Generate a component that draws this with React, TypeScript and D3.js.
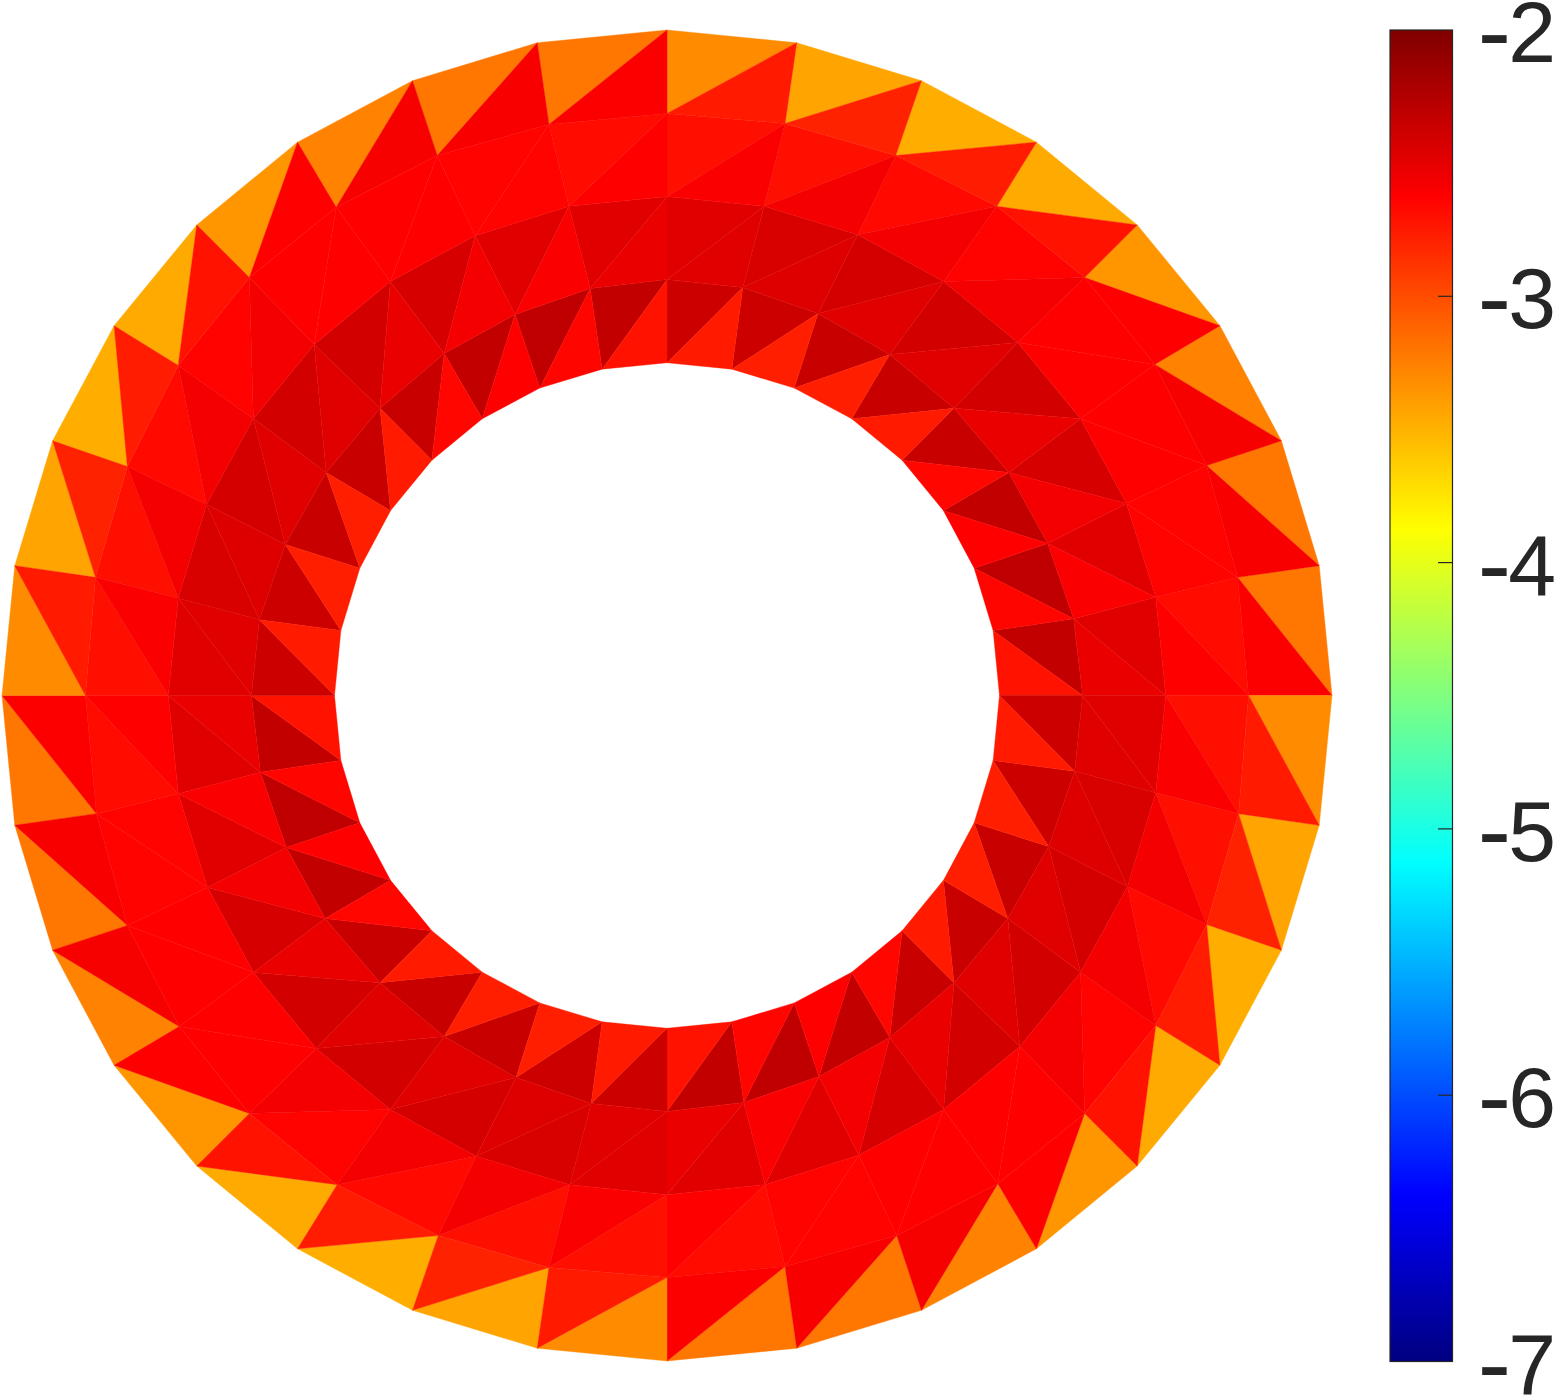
import React from "react";
import * as d3 from "d3";

// One quarter of the ring, read sector by sector clockwise from the top.
// The picture repeats this quarter four times around the centre.
// "a" triangles point outward (inner k, outer k, outer k+1); "b" triangles point inward.
const ring0a = [-2.38, -2.38, -2.355, -2.355, -2.355, -2.33, -2.316, -2.33];
const ring0b = [-2.75, -2.77, -2.77, -2.75, -2.66, -2.625, -2.65, -2.72];
const ring1a = [-2.478, -2.44, -2.415, -2.41, -2.41, -2.43, -2.478, -2.478];
const ring1b = [-2.473, -2.463, -2.478, -2.478, -2.527, -2.576, -2.6, -2.527];
const ring2a = [-2.7, -2.7, -2.67, -2.64, -2.625, -2.625, -2.64, -2.68];
const ring2b = [-2.6, -2.576, -2.57, -2.57, -2.62, -2.625, -2.64, -2.62];
const ring3a = [-3.31, -3.43, -3.48, -3.46, -3.36, -3.26, -3.21, -3.21];
const ring3b = [-2.75, -2.79, -2.76, -2.72, -2.625, -2.585, -2.59, -2.61];

const ringsA = [ring0a, ring1a, ring2a, ring3a];
const ringsB = [ring0b, ring1b, ring2b, ring3b];

// Mesh nodes of the three middle rings for one quarter (x, y in data units).
const nodes1: [number, number][] = [[0, 1.25], [0.228, 1.226], [0.454, 1.148], [0.67, 1.025], [0.863, 0.863], [1.028, 0.67], [1.145, 0.457], [1.223, 0.231]];
const nodes2: [number, number][] = [[0, 1.5], [0.292, 1.47], [0.574, 1.385], [0.832, 1.244], [1.055, 1.061], [1.244, 0.832], [1.382, 0.577], [1.47, 0.295]];
const nodes3: [number, number][] = [[0, 1.749], [0.355, 1.719], [0.688, 1.623], [0.992, 1.47], [1.256, 1.256], [1.467, 0.995], [1.623, 0.691], [1.716, 0.355]];

const SECTORS = 32;
const circle = (r: number): [number, number][] =>
  d3.range(8).map((k) => {
    const a = (k * 2 * Math.PI) / SECTORS;
    return [r * Math.sin(a), r * Math.cos(a)] as [number, number];
  });
const nodes = [circle(1), nodes1, nodes2, nodes3, circle(2)];

const colorTicks = [-2, -3, -4, -5, -6, -7];
const jetValues = [-7, -6.375, -5.125, -3.875, -2.625, -2];
const jetColors = ["#000080", "#0000ff", "#00ffff", "#ffff00", "#ff0000", "#800000"];

const color = d3
  .scaleLinear<string>()
  .domain(jetValues)
  .range(jetColors)
  .interpolate(d3.interpolateRgb)
  .clamp(true);

const x = d3.scaleLinear().domain([-2, 2]).range([2, 1332]);
const y = d3.scaleLinear().domain([-2, 2]).range([1361, 30]);
const bar = d3.scaleLinear().domain([-7, -2]).range([1361.5, 30]);

function vertex(k: number, j: number): [number, number] {
  const i = ((k % SECTORS) + SECTORS) % SECTORS;
  const q = Math.floor(i / 8);
  const [a, b] = nodes[j][i % 8];
  const rotated = q === 0 ? [a, b] : q === 1 ? [b, -a] : q === 2 ? [-a, -b] : [-b, a];
  return [x(rotated[0]), y(rotated[1])];
}

type Tri = { pts: [number, number][]; v: number };

const tris: Tri[] = [];
for (let q = 0; q < 4; q++) {
  for (let j = 0; j < 4; j++) {
    ringsA[j].forEach((v, s) => {
      const k = q * 8 + s;
      tris.push({ pts: [vertex(k, j), vertex(k, j + 1), vertex(k + 1, j + 1)], v });
    });
    ringsB[j].forEach((v, s) => {
      const k = q * 8 + s;
      tris.push({ pts: [vertex(k, j), vertex(k + 1, j + 1), vertex(k + 1, j)], v });
    });
  }
}

const line = d3.line();
const ink = "#262626";

export default function App() {
  return (
    <svg
      width={1556}
      height={1395}
      viewBox="0 0 1556 1395"
      style={{ position: "absolute", left: 0, top: 0, background: "#fff" }}
    >
      <defs>
        <linearGradient id="jet" x1="0" y1="1" x2="0" y2="0">
          {jetValues.map((v, i) => (
            <stop key={v} offset={(v + 7) / 5} stopColor={jetColors[i]} />
          ))}
        </linearGradient>
      </defs>
      <g>
        {tris.map((t, i) => (
          <path
            key={i}
            d={line(t.pts) + "Z"}
            fill={color(t.v)}
            stroke={color(t.v)}
            strokeWidth={0.4}
            strokeLinejoin="round"
          />
        ))}
      </g>
      <g>
        <rect
          x={1390}
          y={bar(-2)}
          width={62.5}
          height={bar(-7) - bar(-2)}
          fill="url(#jet)"
          stroke={ink}
          strokeWidth={1.2}
        />
        {colorTicks
          .filter((t) => t !== -2 && t !== -7)
          .map((t) => (
            <line key={t} x1={1438} x2={1452} y1={bar(t)} y2={bar(t)} stroke={ink} strokeWidth={1.2} />
          ))}
        {colorTicks.map((t) => (
          <text
            key={t}
            x={1556}
            y={bar(t) + 32}
            textAnchor="end"
            fontFamily="'Liberation Sans', Arial, sans-serif"
            fontSize={86}
            fill={ink}
          >
            <tspan fontSize={100} dy={4}>-</tspan>
            <tspan dx={-3} dy={-4}>{Math.abs(t)}</tspan>
          </text>
        ))}
      </g>
    </svg>
  );
}
